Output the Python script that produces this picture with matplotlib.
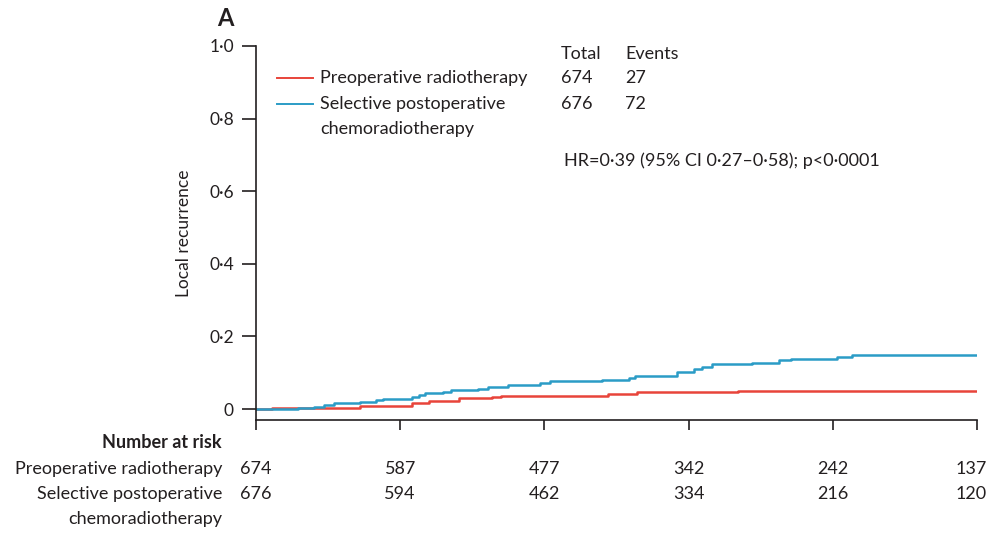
import numpy as np
import matplotlib.pyplot as plt
from matplotlib.transforms import blended_transform_factory, offset_copy

# cumulative local recurrence, step curves (years, proportion)
pre_t = [0, 0.11, 0.72, 1.08, 1.20, 1.41, 1.64, 1.70, 2.44, 2.64, 3.34, 5.0]
pre_y = [0, 0.003, 0.009, 0.0166, 0.023, 0.0295, 0.033, 0.035, 0.0405, 0.046, 0.050, 0.050]

post_t = [0, 0.29, 0.40, 0.47, 0.54, 0.72, 0.83, 0.88, 1.08, 1.13, 1.17, 1.30, 1.35,
          1.54, 1.61, 1.75, 1.97, 2.04, 2.40, 2.59, 2.63, 2.92, 3.04, 3.09, 3.16,
          3.44, 3.63, 3.71, 4.03, 4.13, 5.0]
post_y = [0, 0.003, 0.0065, 0.011, 0.016, 0.020, 0.025, 0.029, 0.032, 0.038, 0.044,
          0.048, 0.052, 0.056, 0.062, 0.067, 0.073, 0.077, 0.080, 0.087, 0.091,
          0.103, 0.110, 0.117, 0.124, 0.128, 0.134, 0.139, 0.144, 0.149, 0.149]

years = [0, 1, 2, 3, 4, 5]
risk_pre = [674, 587, 477, 342, 242, 137]
risk_post = [676, 594, 462, 334, 216, 120]

yticks = [0, 0.2, 0.4, 0.6, 0.8, 1.0]
ytick_labels = ["0", "0·2", "0·4", "0·6", "0·8", "1·0"]

RED = "#e8443a"
BLUE = "#2b9cc6"
INK = "#231f20"

plt.rcParams['font.family'] = ['Lato', 'DejaVu Sans']

fig = plt.figure(figsize=(9.86, 5.33), dpi=100)
ax = fig.add_axes([256 / 986, 1 - 420 / 533, (977 - 256) / 986, (420 - 46) / 533])

ax.step(pre_t, pre_y, where='post', color=RED, lw=1.8)
ax.step(post_t, post_y, where='post', color=BLUE, lw=1.8)

ax.set_xlim(0, 5)
ax.set_ylim(-0.03, 1.0)
ax.set_xticks(years)
ax.set_xticklabels([])
ax.set_yticks(yticks)
ax.set_yticklabels(ytick_labels, fontsize=12.5, color=INK)
ax.tick_params(axis='y', direction='out', length=10, width=1.2, color=INK, pad=6)
ax.tick_params(axis='x', direction='out', length=7, width=1.2, color=INK)
for s in ['top', 'right']:
    ax.spines[s].set_visible(False)
for s in ['left', 'bottom']:
    ax.spines[s].set_color(INK)
    ax.spines[s].set_linewidth(1.2)

ax.set_ylabel("Local recurrence", fontsize=12.5, color=INK, labelpad=12)


def fy(py):
    return 1 - py / 533


def fx(px):
    return px / 986


# panel letter
fig.text(fx(225), fy(18), "A", fontsize=17, fontweight='bold',
         ha='center', va='center', color=INK)

# legend with totals
for py, col in [(78, RED), (104, BLUE)]:
    fig.add_artist(plt.Line2D([fx(277), fx(313)], [fy(py), fy(py)], color=col, lw=1.4))
fig.text(fx(320), fy(78), "Preoperative radiotherapy", fontsize=13, va='center', color=INK)
fig.text(fx(320), fy(104), "Selective postoperative", fontsize=13, va='center', color=INK)
fig.text(fx(320), fy(129), "chemoradiotherapy", fontsize=13, va='center', color=INK)

fig.text(fx(561), fy(54), "Total", fontsize=13, va='center', color=INK)
fig.text(fx(625), fy(54), "Events", fontsize=13, va='center', color=INK)
fig.text(fx(561), fy(78), "674", fontsize=13, va='center', color=INK)
fig.text(fx(625), fy(78), "27", fontsize=13, va='center', color=INK)
fig.text(fx(561), fy(104), "676", fontsize=13, va='center', color=INK)
fig.text(fx(625), fy(104), "72", fontsize=13, va='center', color=INK)
fig.text(fx(564), fy(161), "HR=0·39 (95% CI 0·27–0·58); p<0·0001", fontsize=13,
         va='center', color=INK)

# number at risk table
fig.text(fx(222), fy(442), "Number at risk", fontsize=13, fontweight='bold',
         ha='right', va='center', color=INK)
fig.text(fx(222), fy(469), "Preoperative radiotherapy", fontsize=13,
         ha='right', va='center', color=INK)
fig.text(fx(222), fy(494), "Selective postoperative", fontsize=13,
         ha='right', va='center', color=INK)
fig.text(fx(222), fy(519), "chemoradiotherapy", fontsize=13,
         ha='right', va='center', color=INK)

tr = blended_transform_factory(ax.transData, fig.transFigure)
tr_last = offset_copy(tr, fig=fig, x=-6, y=0, units='dots')
for x, a, b in zip(years, risk_pre, risk_post):
    t = tr_last if x == years[-1] else tr
    ax.text(x, fy(469), str(a), transform=t, ha='center', va='center',
            fontsize=13, color=INK, clip_on=False)
    ax.text(x, fy(494), str(b), transform=t, ha='center', va='center',
            fontsize=13, color=INK, clip_on=False)

fig.savefig("out.png", dpi=100)
